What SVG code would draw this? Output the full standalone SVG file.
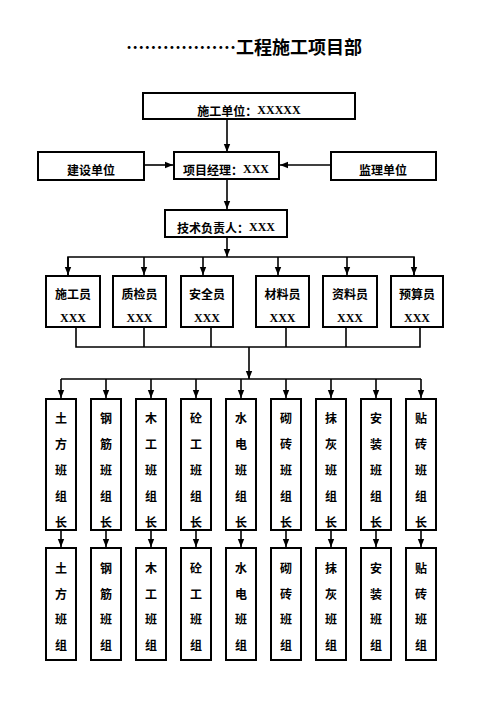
<svg xmlns="http://www.w3.org/2000/svg" width="496" height="702" viewBox="0 0 496 702">
<defs>
<marker id="ah" markerUnits="userSpaceOnUse" markerWidth="8" markerHeight="8" viewBox="0 0 8 8" refX="8" refY="4" orient="auto">
<path d="M0,0.8 L8,4 L0,7.2 Z" fill="#000"/>
</marker>
</defs>
<style>
.box{fill:#fff;stroke:#000;stroke-width:2}
.t{font-family:"Noto Sans CJK SC","Liberation Serif",sans-serif;font-weight:bold;font-size:12px;fill:#000;text-anchor:middle;dominant-baseline:central}
.x{font-family:"Liberation Serif",serif;font-weight:bold;font-size:12px;fill:#000;text-anchor:middle;dominant-baseline:central}
.c{fill:none;stroke:#000;stroke-width:1.6}
.a{marker-end:url(#ah)}
</style>
<rect width="496" height="702" fill="#fff"/>
<g id="title">
<text x="126" y="46" font-family="Noto Sans CJK SC,sans-serif" font-weight="bold" font-size="18" dominant-baseline="central" textLength="110" lengthAdjust="spacingAndGlyphs">………………</text>
<text x="236" y="46" font-family="Noto Sans CJK SC,sans-serif" font-weight="bold" font-size="18" dominant-baseline="central">工程施工项目部</text>
</g>
<g id="connectors">
<line class="c a" x1="227" y1="119" x2="227" y2="152"/>
<line class="c a" x1="144" y1="165" x2="173" y2="165"/>
<line class="c a" x1="331" y1="165" x2="280" y2="165"/>
<line class="c a" x1="227" y1="179" x2="227" y2="209"/>
<line class="c a" x1="227" y1="237" x2="227" y2="257"/>
<polyline class="c" points="68,275 68,257 414,257 414,275"/>
<line class="c a" x1="68" y1="257" x2="68" y2="275"/>
<line class="c a" x1="144" y1="257" x2="144" y2="275"/>
<line class="c a" x1="203" y1="257" x2="203" y2="275"/>
<line class="c a" x1="278" y1="257" x2="278" y2="275"/>
<line class="c a" x1="347" y1="257" x2="347" y2="275"/>
<line class="c a" x1="414" y1="257" x2="414" y2="275"/>
<polyline class="c" points="76,327 76,347 420,347 420,327"/>
<line class="c" x1="144" y1="327" x2="144" y2="347"/>
<line class="c" x1="211" y1="327" x2="211" y2="347"/>
<line class="c" x1="286" y1="327" x2="286" y2="347"/>
<line class="c" x1="346" y1="327" x2="346" y2="347"/>
<line class="c a" x1="249" y1="347" x2="249" y2="379"/>
<line class="c" x1="61" y1="379" x2="421" y2="379"/>
<line class="c a" x1="61" y1="379" x2="61" y2="398"/>
<line class="c a" x1="106" y1="379" x2="106" y2="398"/>
<line class="c a" x1="151" y1="379" x2="151" y2="398"/>
<line class="c a" x1="196" y1="379" x2="196" y2="398"/>
<line class="c a" x1="241" y1="379" x2="241" y2="398"/>
<line class="c a" x1="286" y1="379" x2="286" y2="398"/>
<line class="c a" x1="331" y1="379" x2="331" y2="398"/>
<line class="c a" x1="376" y1="379" x2="376" y2="398"/>
<line class="c a" x1="421" y1="379" x2="421" y2="398"/>
<line class="c a" x1="61" y1="530" x2="61" y2="547"/>
<line class="c a" x1="106" y1="530" x2="106" y2="547"/>
<line class="c a" x1="151" y1="530" x2="151" y2="547"/>
<line class="c a" x1="196" y1="530" x2="196" y2="547"/>
<line class="c a" x1="241" y1="530" x2="241" y2="547"/>
<line class="c a" x1="286" y1="530" x2="286" y2="547"/>
<line class="c a" x1="331" y1="530" x2="331" y2="547"/>
<line class="c a" x1="376" y1="530" x2="376" y2="547"/>
<line class="c a" x1="421" y1="530" x2="421" y2="547"/>
</g>
<g id="n-sg"><rect class="box" x="143" y="93" width="212" height="26"/><text class="t" x="249" y="110">施工单位：<tspan class="x">XXXXX</tspan></text></g>
<g id="n-js"><rect class="box" x="38" y="152" width="106" height="28"/><text class="t" x="91" y="169">建设单位</text></g>
<g id="n-pm"><rect class="box" x="174" y="152" width="105" height="27"/><text class="t" x="226" y="169">项目经理：<tspan class="x">XXX</tspan></text></g>
<g id="n-jl"><rect class="box" x="331" y="152" width="105" height="28"/><text class="t" x="383" y="169">监理单位</text></g>
<g id="n-tech"><rect class="box" x="165" y="210" width="122" height="27"/><text class="t" x="226" y="227">技术负责人：<tspan class="x">XXX</tspan></text></g>
<g id="s1"><rect class="box" x="46" y="276" width="54" height="51"/><text class="t" x="73" y="293">施工员</text><text class="x" x="73" y="318">XXX</text></g>
<g id="s2"><rect class="box" x="113" y="276" width="53" height="51"/><text class="t" x="139.5" y="293">质检员</text><text class="x" x="139.5" y="318">XXX</text></g>
<g id="s3"><rect class="box" x="181" y="276" width="52" height="51"/><text class="t" x="207" y="293">安全员</text><text class="x" x="207" y="318">XXX</text></g>
<g id="s4"><rect class="box" x="256" y="276" width="53" height="51"/><text class="t" x="282.5" y="293">材料员</text><text class="x" x="282.5" y="318">XXX</text></g>
<g id="s5"><rect class="box" x="323" y="276" width="54" height="51"/><text class="t" x="350" y="293">资料员</text><text class="x" x="350" y="318">XXX</text></g>
<g id="s6"><rect class="box" x="391" y="276" width="52" height="51"/><text class="t" x="417" y="293">预算员</text><text class="x" x="417" y="318">XXX</text></g>
<g id="l1"><rect class="box" x="46" y="399" width="30" height="131"/><text class="t" x="61" y="417">土</text><text class="t" x="61" y="443">方</text><text class="t" x="61" y="469">班</text><text class="t" x="61" y="495">组</text><text class="t" x="61" y="521">长</text></g>
<g id="l2"><rect class="box" x="91" y="399" width="30" height="131"/><text class="t" x="106" y="417">钢</text><text class="t" x="106" y="443">筋</text><text class="t" x="106" y="469">班</text><text class="t" x="106" y="495">组</text><text class="t" x="106" y="521">长</text></g>
<g id="l3"><rect class="box" x="136" y="399" width="30" height="131"/><text class="t" x="151" y="417">木</text><text class="t" x="151" y="443">工</text><text class="t" x="151" y="469">班</text><text class="t" x="151" y="495">组</text><text class="t" x="151" y="521">长</text></g>
<g id="l4"><rect class="box" x="181" y="399" width="30" height="131"/><text class="t" x="196" y="417">砼</text><text class="t" x="196" y="443">工</text><text class="t" x="196" y="469">班</text><text class="t" x="196" y="495">组</text><text class="t" x="196" y="521">长</text></g>
<g id="l5"><rect class="box" x="226" y="399" width="30" height="131"/><text class="t" x="241" y="417">水</text><text class="t" x="241" y="443">电</text><text class="t" x="241" y="469">班</text><text class="t" x="241" y="495">组</text><text class="t" x="241" y="521">长</text></g>
<g id="l6"><rect class="box" x="271" y="399" width="30" height="131"/><text class="t" x="286" y="417">砌</text><text class="t" x="286" y="443">砖</text><text class="t" x="286" y="469">班</text><text class="t" x="286" y="495">组</text><text class="t" x="286" y="521">长</text></g>
<g id="l7"><rect class="box" x="316" y="399" width="30" height="131"/><text class="t" x="331" y="417">抹</text><text class="t" x="331" y="443">灰</text><text class="t" x="331" y="469">班</text><text class="t" x="331" y="495">组</text><text class="t" x="331" y="521">长</text></g>
<g id="l8"><rect class="box" x="361" y="399" width="30" height="131"/><text class="t" x="376" y="417">安</text><text class="t" x="376" y="443">装</text><text class="t" x="376" y="469">班</text><text class="t" x="376" y="495">组</text><text class="t" x="376" y="521">长</text></g>
<g id="l9"><rect class="box" x="406" y="399" width="30" height="131"/><text class="t" x="421" y="417">贴</text><text class="t" x="421" y="443">砖</text><text class="t" x="421" y="469">班</text><text class="t" x="421" y="495">组</text><text class="t" x="421" y="521">长</text></g>
<g id="g1"><rect class="box" x="46" y="548" width="30" height="112"/><text class="t" x="61" y="567">土</text><text class="t" x="61" y="593">方</text><text class="t" x="61" y="618">班</text><text class="t" x="61" y="644">组</text></g>
<g id="g2"><rect class="box" x="91" y="548" width="30" height="112"/><text class="t" x="106" y="567">钢</text><text class="t" x="106" y="593">筋</text><text class="t" x="106" y="618">班</text><text class="t" x="106" y="644">组</text></g>
<g id="g3"><rect class="box" x="136" y="548" width="30" height="112"/><text class="t" x="151" y="567">木</text><text class="t" x="151" y="593">工</text><text class="t" x="151" y="618">班</text><text class="t" x="151" y="644">组</text></g>
<g id="g4"><rect class="box" x="181" y="548" width="30" height="112"/><text class="t" x="196" y="567">砼</text><text class="t" x="196" y="593">工</text><text class="t" x="196" y="618">班</text><text class="t" x="196" y="644">组</text></g>
<g id="g5"><rect class="box" x="226" y="548" width="30" height="112"/><text class="t" x="241" y="567">水</text><text class="t" x="241" y="593">电</text><text class="t" x="241" y="618">班</text><text class="t" x="241" y="644">组</text></g>
<g id="g6"><rect class="box" x="271" y="548" width="30" height="112"/><text class="t" x="286" y="567">砌</text><text class="t" x="286" y="593">砖</text><text class="t" x="286" y="618">班</text><text class="t" x="286" y="644">组</text></g>
<g id="g7"><rect class="box" x="316" y="548" width="30" height="112"/><text class="t" x="331" y="567">抹</text><text class="t" x="331" y="593">灰</text><text class="t" x="331" y="618">班</text><text class="t" x="331" y="644">组</text></g>
<g id="g8"><rect class="box" x="361" y="548" width="30" height="112"/><text class="t" x="376" y="567">安</text><text class="t" x="376" y="593">装</text><text class="t" x="376" y="618">班</text><text class="t" x="376" y="644">组</text></g>
<g id="g9"><rect class="box" x="406" y="548" width="30" height="112"/><text class="t" x="421" y="567">贴</text><text class="t" x="421" y="593">砖</text><text class="t" x="421" y="618">班</text><text class="t" x="421" y="644">组</text></g>
</svg>
